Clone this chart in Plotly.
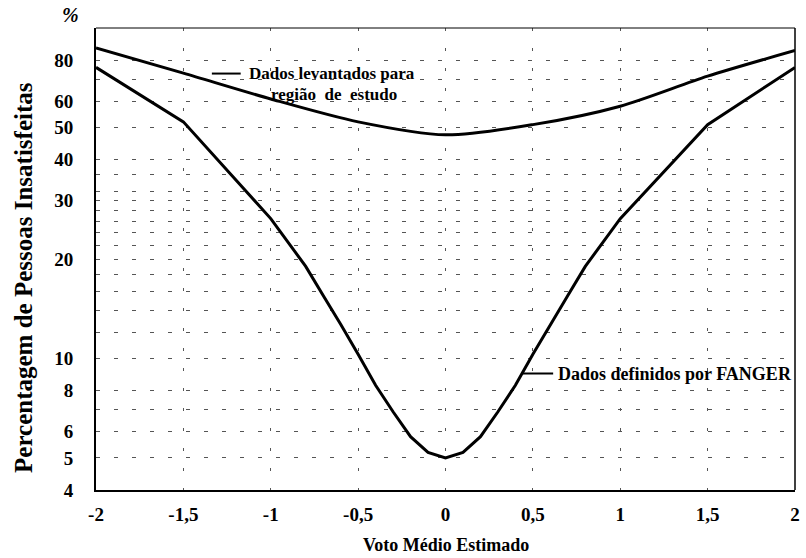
import math
import plotly.graph_objects as go

# Data
x_levantados = [-2, -1.5, -1, -0.5, 0, 0.5, 1, 1.5, 2]
y_levantados = [87, 73, 61, 52, 47.5, 51, 58, 71.5, 85.5]

x_fanger = [-2, -1.5, -1, -0.9, -0.8, -0.7, -0.6, -0.5, -0.4, -0.3, -0.2, -0.1, 0,
            0.1, 0.2, 0.3, 0.4, 0.5, 0.6, 0.7, 0.8, 0.9, 1, 1.5, 2]
y_fanger = [76, 52, 26.5, 22.5, 19, 15.5, 12.7, 10.3, 8.3, 6.9, 5.8, 5.2, 5.0,
            5.2, 5.8, 6.9, 8.3, 10.3, 12.7, 15.5, 19, 22.5, 26.5, 51, 76]

x_tickvals = [-2, -1.5, -1, -0.5, 0, 0.5, 1, 1.5, 2]
x_ticktext = ["-2", "-1,5", "-1", "-0,5", "0", "0,5", "1", "1,5", "2"]

y_labelled = [4, 5, 6, 8, 10, 20, 30, 40, 50, 60, 80]
y_grid = [5, 6, 7, 8, 10, 12, 14, 16, 18, 20, 22, 24, 26, 28, 30, 32, 36, 40, 50, 60, 70, 80]

FONT = "Liberation Serif, Times New Roman, serif"

fig = go.Figure()
fig.add_trace(go.Scatter(x=x_levantados, y=y_levantados, mode="lines",
                         line=dict(color="black", width=3, shape="spline", smoothing=0.8),
                         showlegend=False, hoverinfo="skip"))
fig.add_trace(go.Scatter(x=x_fanger, y=y_fanger, mode="lines",
                         line=dict(color="black", width=3),
                         showlegend=False, hoverinfo="skip"))

yt_vals = sorted(set(y_grid + [4]))
yt_text = [str(v) if v in y_labelled else "" for v in yt_vals]

tf = dict(family=FONT, size=19, color="black", weight="bold")

fig.update_layout(
    width=806, height=558,
    margin=dict(l=96, r=6, t=28, b=68),
    paper_bgcolor="white", plot_bgcolor="white",
    font=dict(family=FONT, color="black"),
    xaxis=dict(range=[-2, 2], tickmode="array", tickvals=x_tickvals, ticktext=x_ticktext,
               showgrid=True, gridcolor="#555", gridwidth=1, griddash="3px,17px",
               showline=True, linecolor="black", linewidth=2, zeroline=False,
               tickfont=tf, ticks="", ticklabelstandoff=6),
    yaxis=dict(type="log", range=[math.log10(4), 2.0], tickmode="array", tickvals=yt_vals,
               ticktext=yt_text, showgrid=True, gridcolor="#555", gridwidth=1,
               griddash="4px,14px", showline=True, linecolor="black", linewidth=2,
               zeroline=False, tickfont=tf, ticks="", ticklabelstandoff=17),
)

# top and right border (thin)
fig.add_shape(type="line", xref="paper", yref="paper", x0=0, x1=1, y0=1, y1=1,
              line=dict(color="black", width=1))
fig.add_shape(type="line", xref="paper", yref="paper", x0=1, x1=1, y0=0, y1=1,
              line=dict(color="black", width=1.5))

# axis titles
fig.add_annotation(text="Voto Médio Estimado", xref="paper", yref="paper",
                   x=0.5, y=0, yshift=-55, xanchor="center", yanchor="middle",
                   showarrow=False, font=dict(family=FONT, size=18, weight="bold"))
fig.add_annotation(text="Percentagem de Pessoas Insatisfeitas", xref="paper", yref="paper",
                   x=0, xshift=-72, y=0.459, xanchor="center", yanchor="middle",
                   textangle=-90, showarrow=False, font=dict(family=FONT, size=25, weight="bold"))
fig.add_annotation(text="<i>%</i>", xref="paper", yref="paper",
                   x=0, xshift=-26, y=1, yshift=13, xanchor="center", yanchor="middle",
                   showarrow=False, font=dict(family=FONT, size=20, weight="bold"))

# series labels with leader lines (annotation y in log10 units on a log axis)
fig.add_annotation(text="Dados levantados para", x=-1.135, y=math.log10(73.0), xanchor="left",
                   yanchor="middle", showarrow=False, font=dict(family=FONT, size=17, weight="bold"))
fig.add_annotation(text="região  de  estudo", x=-1.01, y=math.log10(63.0), xanchor="left",
                   yanchor="middle", showarrow=False, font=dict(family=FONT, size=17, weight="bold"))
fig.add_shape(type="line", x0=-1.337, x1=-1.172, y0=72.8, y1=72.8,
              line=dict(color="black", width=2))

fig.add_annotation(text="Dados definidos por FANGER", x=0.632, y=math.log10(9.0), xanchor="left",
                   yanchor="middle", showarrow=False, font=dict(family=FONT, size=18, weight="bold"))
fig.add_shape(type="line", x0=0.436, x1=0.616, y0=9.0, y1=9.0,
              line=dict(color="black", width=2))

fig.write_html("out.html")
